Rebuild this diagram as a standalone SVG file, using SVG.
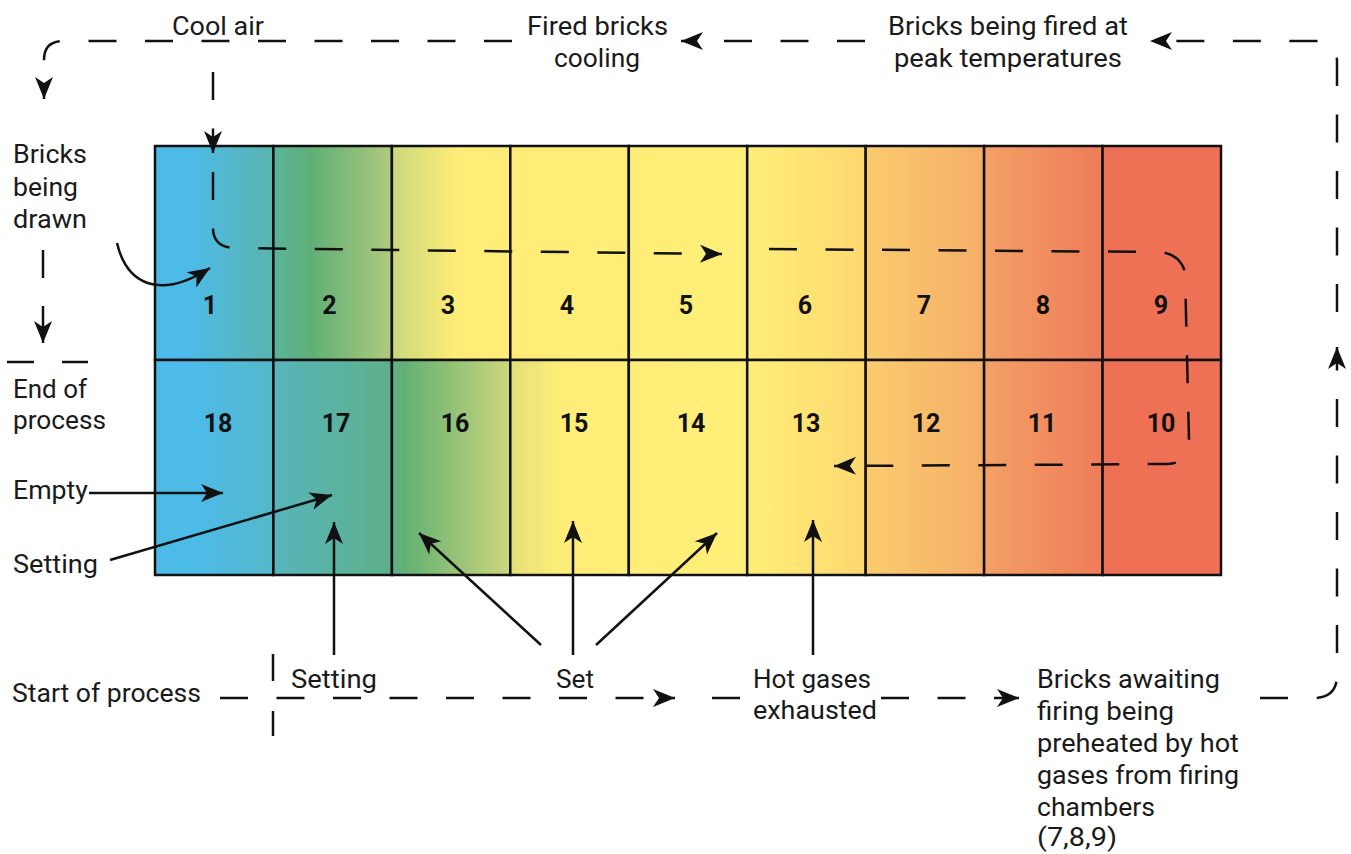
<svg xmlns="http://www.w3.org/2000/svg" width="1351" height="854" viewBox="0 0 1351 854">
<style>
  .lbl { font-family: Roboto, "Liberation Sans", sans-serif; font-size: 25px; fill: #1a1a1a; }
  .num { font-family: Roboto, "Liberation Sans", sans-serif; font-size: 25px; font-weight: bold; fill: #111; text-anchor: middle; }
  .cell { stroke: #111; stroke-width: 2.5; }
  .ln { fill: none; stroke: #111; stroke-width: 2.5; }
  .dash { stroke-dasharray: 28 28.5; }
</style>
<defs>
  <linearGradient id="gTop" gradientUnits="userSpaceOnUse" x1="155" y1="0" x2="1221" y2="0">
    <stop offset="0" stop-color="#4DBBE8"/>
    <stop offset="0.0328" stop-color="#4DBBE8"/>
    <stop offset="0.1116" stop-color="#5AB4AE"/>
    <stop offset="0.1116" stop-color="#5BB39A"/>
    <stop offset="0.1480" stop-color="#60B076"/>
    <stop offset="0.2223" stop-color="#B0CA7D"/>
    <stop offset="0.2224" stop-color="#C9D97D"/>
    <stop offset="0.2830" stop-color="#FEEC77"/>
    <stop offset="0.5563" stop-color="#FFEE78"/>
    <stop offset="0.6670" stop-color="#FDD870"/>
    <stop offset="0.6671" stop-color="#FBCB6E"/>
    <stop offset="0.7786" stop-color="#F5AE68"/>
    <stop offset="0.7787" stop-color="#F3A066"/>
    <stop offset="0.8893" stop-color="#EE7C59"/>
    <stop offset="0.8894" stop-color="#EE7055"/>
    <stop offset="1" stop-color="#EE7055"/>
  </linearGradient>
  <linearGradient id="gBot" gradientUnits="userSpaceOnUse" x1="155" y1="0" x2="1221" y2="0">
    <stop offset="0" stop-color="#4DBBE8"/>
    <stop offset="0.0422" stop-color="#4DBBE8"/>
    <stop offset="0.1116" stop-color="#55B7C8"/>
    <stop offset="0.1116" stop-color="#57B5BA"/>
    <stop offset="0.2223" stop-color="#5EB08A"/>
    <stop offset="0.2330" stop-color="#62B074"/>
    <stop offset="0.3340" stop-color="#CDD77B"/>
    <stop offset="0.3341" stop-color="#E2E07A"/>
    <stop offset="0.3800" stop-color="#FEEE78"/>
    <stop offset="0.5563" stop-color="#FFEE78"/>
    <stop offset="0.6670" stop-color="#FDD870"/>
    <stop offset="0.6671" stop-color="#FBCB6E"/>
    <stop offset="0.7786" stop-color="#F5AE68"/>
    <stop offset="0.7787" stop-color="#F3A066"/>
    <stop offset="0.8893" stop-color="#EE7C59"/>
    <stop offset="0.8894" stop-color="#EE7055"/>
    <stop offset="1" stop-color="#EE7055"/>
  </linearGradient>
  <marker id="ah" markerUnits="userSpaceOnUse" markerWidth="30" markerHeight="30" viewBox="-25 -15 30 30" refX="0" refY="0" orient="auto">
    <path d="M0,0 L-22,-9 L-16,0 L-22,9 Z" fill="#111" stroke="none"/>
  </marker>
</defs>

<rect width="1351" height="854" fill="#fff"/>

<!-- cells top row -->
<g id="cell-1"><rect class="cell" x="155" y="146" width="118.4" height="214" fill="url(#gTop)"/><text class="num" x="210" y="314">1</text></g>
<g id="cell-2"><rect class="cell" x="273.4" y="146" width="118.5" height="214" fill="url(#gTop)"/><text class="num" x="329.5" y="314">2</text></g>
<g id="cell-3"><rect class="cell" x="391.9" y="146" width="118.4" height="214" fill="url(#gTop)"/><text class="num" x="448" y="314">3</text></g>
<g id="cell-4"><rect class="cell" x="510.3" y="146" width="118.5" height="214" fill="url(#gTop)"/><text class="num" x="567" y="314">4</text></g>
<g id="cell-5"><rect class="cell" x="628.8" y="146" width="118.4" height="214" fill="url(#gTop)"/><text class="num" x="686" y="314">5</text></g>
<g id="cell-6"><rect class="cell" x="747.2" y="146" width="118.5" height="214" fill="url(#gTop)"/><text class="num" x="805" y="314">6</text></g>
<g id="cell-7"><rect class="cell" x="865.7" y="146" width="118.4" height="214" fill="url(#gTop)"/><text class="num" x="924" y="314">7</text></g>
<g id="cell-8"><rect class="cell" x="984.1" y="146" width="118.5" height="214" fill="url(#gTop)"/><text class="num" x="1043" y="314">8</text></g>
<g id="cell-9"><rect class="cell" x="1102.6" y="146" width="118.4" height="214" fill="url(#gTop)"/><text class="num" x="1161" y="314">9</text></g>
<!-- cells bottom row -->
<g id="cell-18"><rect class="cell" x="155" y="360" width="118.4" height="215" fill="url(#gBot)"/><text class="num" x="218" y="432">18</text></g>
<g id="cell-17"><rect class="cell" x="273.4" y="360" width="118.5" height="215" fill="url(#gBot)"/><text class="num" x="336" y="432">17</text></g>
<g id="cell-16"><rect class="cell" x="391.9" y="360" width="118.4" height="215" fill="url(#gBot)"/><text class="num" x="455" y="432">16</text></g>
<g id="cell-15"><rect class="cell" x="510.3" y="360" width="118.5" height="215" fill="url(#gBot)"/><text class="num" x="574" y="432">15</text></g>
<g id="cell-14"><rect class="cell" x="628.8" y="360" width="118.4" height="215" fill="url(#gBot)"/><text class="num" x="691" y="432">14</text></g>
<g id="cell-13"><rect class="cell" x="747.2" y="360" width="118.5" height="215" fill="url(#gBot)"/><text class="num" x="806" y="432">13</text></g>
<g id="cell-12"><rect class="cell" x="865.7" y="360" width="118.4" height="215" fill="url(#gBot)"/><text class="num" x="926" y="432">12</text></g>
<g id="cell-11"><rect class="cell" x="984.1" y="360" width="118.5" height="215" fill="url(#gBot)"/><text class="num" x="1042" y="432">11</text></g>
<g id="cell-10"><rect class="cell" x="1102.6" y="360" width="118.4" height="215" fill="url(#gBot)"/><text class="num" x="1161" y="432">10</text></g>

<!-- labels -->
<g id="label-cool-air"><text class="lbl" x="172" y="35" textLength="92" lengthAdjust="spacingAndGlyphs">Cool air</text></g>
<g id="label-fired-cooling"><text class="lbl" x="527" y="35" textLength="141" lengthAdjust="spacingAndGlyphs">Fired bricks</text><text class="lbl" x="554" y="67" textLength="86" lengthAdjust="spacingAndGlyphs">cooling</text></g>
<g id="label-peak"><text class="lbl" x="888" y="35" textLength="240" lengthAdjust="spacingAndGlyphs">Bricks being fired at</text><text class="lbl" x="894" y="67" textLength="228" lengthAdjust="spacingAndGlyphs">peak temperatures</text></g>
<g id="label-drawn"><text class="lbl" x="13" y="163" textLength="74" lengthAdjust="spacingAndGlyphs">Bricks</text><text class="lbl" x="13" y="196" textLength="65" lengthAdjust="spacingAndGlyphs">being</text><text class="lbl" x="13" y="228" textLength="74" lengthAdjust="spacingAndGlyphs">drawn</text></g>
<g id="label-end"><text class="lbl" x="13" y="398" textLength="74" lengthAdjust="spacingAndGlyphs">End of</text><text class="lbl" x="13" y="429" textLength="93" lengthAdjust="spacingAndGlyphs">process</text></g>
<g id="label-empty"><text class="lbl" x="13" y="499" textLength="75" lengthAdjust="spacingAndGlyphs">Empty</text></g>
<g id="label-setting-left"><text class="lbl" x="13" y="573" textLength="85" lengthAdjust="spacingAndGlyphs">Setting</text></g>
<g id="label-start"><text class="lbl" x="12" y="702" textLength="189" lengthAdjust="spacingAndGlyphs">Start of process</text></g>
<g id="label-setting-bottom"><text class="lbl" x="291" y="688" textLength="86" lengthAdjust="spacingAndGlyphs">Setting</text></g>
<g id="label-set"><text class="lbl" x="556" y="688" textLength="38" lengthAdjust="spacingAndGlyphs">Set</text></g>
<g id="label-hot-gases"><text class="lbl" x="753" y="688" textLength="118" lengthAdjust="spacingAndGlyphs">Hot gases</text><text class="lbl" x="753" y="719" textLength="124" lengthAdjust="spacingAndGlyphs">exhausted</text></g>
<g id="label-awaiting"><text class="lbl" x="1037" y="688" textLength="183" lengthAdjust="spacingAndGlyphs">Bricks awaiting</text><text class="lbl" x="1037" y="720" textLength="137" lengthAdjust="spacingAndGlyphs">firing being</text><text class="lbl" x="1037" y="752" textLength="202" lengthAdjust="spacingAndGlyphs">preheated by hot</text><text class="lbl" x="1037" y="784" textLength="202" lengthAdjust="spacingAndGlyphs">gases from firing</text><text class="lbl" x="1037" y="816" textLength="118" lengthAdjust="spacingAndGlyphs">chambers</text><text class="lbl" x="1037" y="846" textLength="80" lengthAdjust="spacingAndGlyphs">(7,8,9)</text></g>

<!-- connectors -->
<g id="connectors">
  <!-- outer dashed loop -->
  <path class="ln dash" d="M220,698 H675" marker-end="url(#ah)"/>
  <path class="ln" d="M712,698 H740"/>
  <path class="ln dash" d="M881,698 H1019" marker-end="url(#ah)"/>
  <path class="ln dash" d="M1260,698 H1314 Q1337,698 1337,675 V347" marker-end="url(#ah)"/>
  <path class="ln dash" d="M1337,312 V62 Q1337,41 1316,41 H1150" marker-end="url(#ah)"/>
  <path class="ln dash" d="M865,41 H681" marker-end="url(#ah)"/>
  <path class="ln dash" d="M512,41 H63 Q44,41 44,60 V99" marker-end="url(#ah)"/>
  <!-- cool air path through kiln -->
  <path class="ln dash" d="M213,72 V153" marker-end="url(#ah)"/>
  <path class="ln dash" d="M213,172 V228 Q213,247 234,248 L722,254" marker-end="url(#ah)"/>
  <path class="ln dash" d="M769,249 L1160,252 Q1180,254 1185,272 L1189,440 Q1189,463 1168,464 L834,466" marker-end="url(#ah)"/>
  <!-- left side markers -->
  <path class="ln" d="M43,250 V278"/>
  <path class="ln" d="M43,306 V343" marker-end="url(#ah)"/>
  <path class="ln" d="M7,362 H34 M62,362 H88"/>
  <path class="ln" d="M273,654 V681 M273,711 V736"/>
  <!-- solid pointer arrows -->
  <path class="ln" d="M117,243 C127,285 160,300 210,268" marker-end="url(#ah)"/>
  <path class="ln" d="M89,493 H223" marker-end="url(#ah)"/>
  <path class="ln" d="M110,560 L332,495" marker-end="url(#ah)"/>
  <path class="ln" d="M334,655 V522" marker-end="url(#ah)"/>
  <path class="ln" d="M541,645 L419,533" marker-end="url(#ah)"/>
  <path class="ln" d="M573,655 V521" marker-end="url(#ah)"/>
  <path class="ln" d="M596,645 L717,533" marker-end="url(#ah)"/>
  <path class="ln" d="M813,655 V520" marker-end="url(#ah)"/>
</g>
</svg>
